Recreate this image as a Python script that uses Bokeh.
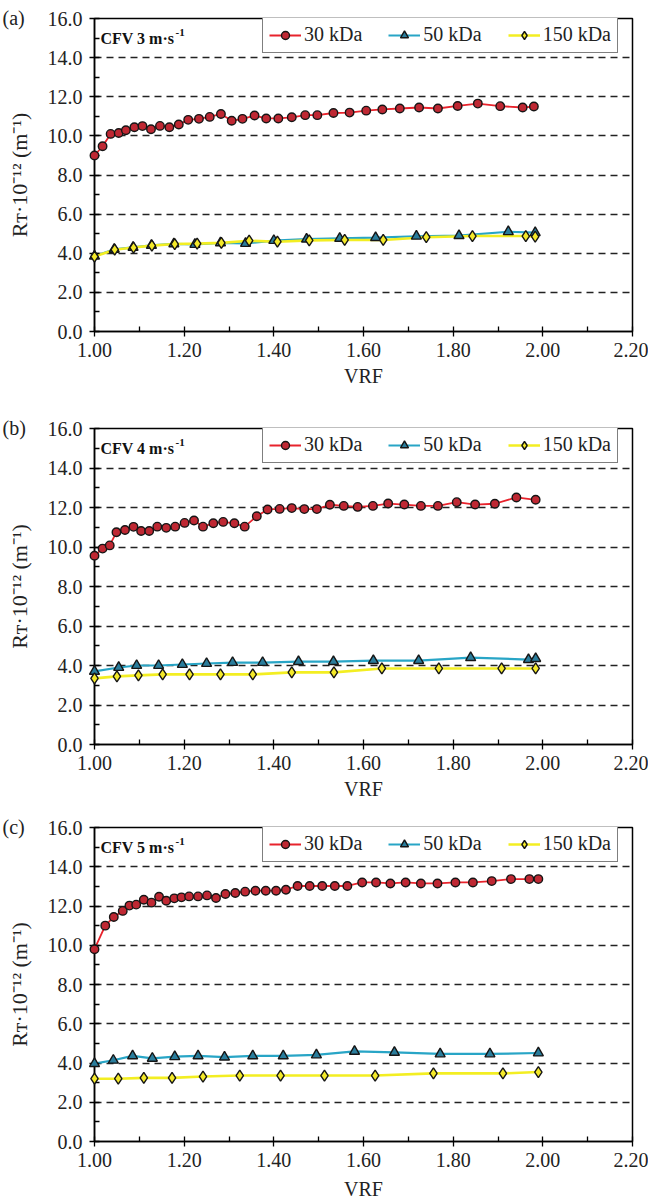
from bokeh.plotting import figure
from bokeh.layouts import column
from bokeh.models import (FixedTicker, NumeralTickFormatter, Label, Legend,
                          LegendItem, Range1d)
from bokeh.embed import file_html
from bokeh.resources import INLINE

# ---------------- data ----------------
panel_tags = ["(a)", "(b)", "(c)"]
cfv_speeds = ["3", "4", "5"]
series_names = ["30 kDa", "50 kDa", "150 kDa"]

x_ticks = [1.0, 1.2, 1.4, 1.6, 1.8, 2.0, 2.2]
x_minor = [1.1, 1.3, 1.5, 1.7, 1.9, 2.1]
y_ticks = [0, 2, 4, 6, 8, 10, 12, 14, 16]
y_minor = [1, 3, 5, 7, 9, 11, 13, 15]
y_grid = [2, 4, 6, 8, 10, 12, 14]

# (a) CFV 3 m/s
a30_x = [1.00, 1.018, 1.036, 1.054, 1.07, 1.089, 1.107, 1.126, 1.146, 1.167, 1.188,
         1.209, 1.233, 1.257, 1.282, 1.306, 1.33, 1.357, 1.383, 1.41, 1.44, 1.47,
         1.497, 1.533, 1.569, 1.606, 1.642, 1.681, 1.724, 1.766, 1.81, 1.855, 1.905,
         1.955, 1.98]
a30_y = [9.0, 9.47, 10.1, 10.15, 10.29, 10.44, 10.5, 10.34, 10.51, 10.44, 10.58,
         10.82, 10.87, 10.97, 11.12, 10.77, 10.87, 11.04, 10.89, 10.89, 10.95, 11.06,
         11.06, 11.17, 11.19, 11.29, 11.35, 11.4, 11.45, 11.4, 11.53, 11.65, 11.52,
         11.45, 11.5]
a50_x = [1.00, 1.044, 1.086, 1.127, 1.177, 1.224, 1.281, 1.337, 1.40, 1.473, 1.547,
         1.627, 1.718, 1.813, 1.923, 1.983]
a50_y = [3.85, 4.2, 4.3, 4.4, 4.48, 4.45, 4.53, 4.5, 4.65, 4.72, 4.76, 4.8, 4.87,
         4.9, 5.1, 5.05]
a150_x = [1.00, 1.045, 1.087, 1.128, 1.179, 1.229, 1.283, 1.345, 1.408, 1.479, 1.558,
          1.644, 1.74, 1.843, 1.962, 1.983]
a150_y = [3.83, 4.18, 4.29, 4.39, 4.47, 4.49, 4.53, 4.64, 4.59, 4.66, 4.68, 4.68,
          4.82, 4.88, 4.88, 4.85]

# (b) CFV 4 m/s
b30_x = [1.00, 1.018, 1.034, 1.049, 1.068, 1.087, 1.104, 1.122, 1.14, 1.16, 1.18,
         1.201, 1.222, 1.242, 1.265, 1.287, 1.312, 1.335, 1.362, 1.386, 1.413, 1.44,
         1.468, 1.496, 1.525, 1.556, 1.587, 1.621, 1.655, 1.691, 1.728, 1.766, 1.808,
         1.849, 1.893, 1.941, 1.984]
b30_y = [9.56, 9.92, 10.08, 10.75, 10.86, 11.02, 10.81, 10.81, 11.03, 10.97, 11.03,
         11.22, 11.34, 11.03, 11.2, 11.27, 11.2, 11.03, 11.56, 11.9, 11.93, 11.97,
         11.92, 11.92, 12.14, 12.08, 12.03, 12.08, 12.2, 12.15, 12.08, 12.08, 12.27,
         12.15, 12.19, 12.51, 12.39]
b50_x = [1.00, 1.054, 1.094, 1.143, 1.196, 1.25, 1.308, 1.375, 1.455, 1.533, 1.622,
         1.723, 1.839, 1.968, 1.984]
b50_y = [3.7, 3.9, 4.0, 4.0, 4.05, 4.1, 4.15, 4.15, 4.2, 4.2, 4.25, 4.25, 4.4, 4.3,
         4.35]
b150_x = [1.00, 1.05, 1.098, 1.152, 1.212, 1.281, 1.353, 1.44, 1.534, 1.641, 1.768,
          1.908, 1.984]
b150_y = [3.35, 3.45, 3.5, 3.55, 3.55, 3.55, 3.55, 3.65, 3.65, 3.85, 3.85, 3.85, 3.85]

# (c) CFV 5 m/s
c30_x = [1.00, 1.024, 1.043, 1.063, 1.078, 1.093, 1.11, 1.127, 1.144, 1.16, 1.178,
         1.194, 1.211, 1.231, 1.251, 1.271, 1.292, 1.314, 1.336, 1.359, 1.382, 1.405,
         1.427, 1.453, 1.48, 1.508, 1.536, 1.564, 1.597, 1.628, 1.66, 1.694, 1.728,
         1.765, 1.805, 1.844, 1.886, 1.929, 1.97, 1.99]
c30_y = [9.8, 11.0, 11.44, 11.75, 12.02, 12.07, 12.32, 12.17, 12.47, 12.27, 12.39,
         12.44, 12.49, 12.49, 12.54, 12.41, 12.61, 12.66, 12.73, 12.78, 12.78, 12.78,
         12.83, 13.02, 13.02, 13.02, 13.02, 13.02, 13.2, 13.2, 13.15, 13.2, 13.15,
         13.15, 13.2, 13.2, 13.27, 13.37, 13.37, 13.37]
c50_x = [1.00, 1.042, 1.085, 1.129, 1.179, 1.231, 1.29, 1.353, 1.421, 1.495, 1.58,
         1.669, 1.771, 1.882, 1.99]
c50_y = [3.97, 4.14, 4.36, 4.24, 4.32, 4.36, 4.3, 4.36, 4.36, 4.41, 4.59, 4.54, 4.46,
         4.46, 4.51]
c150_x = [1.00, 1.053, 1.11, 1.173, 1.242, 1.324, 1.415, 1.513, 1.626, 1.756, 1.911,
          1.99]
c150_y = [3.2, 3.2, 3.24, 3.24, 3.31, 3.36, 3.36, 3.36, 3.36, 3.47, 3.47, 3.54]

panels = [
    [(a30_x, a30_y), (a50_x, a50_y), (a150_x, a150_y)],
    [(b30_x, b30_y), (b50_x, b50_y), (b150_x, b150_y)],
    [(c30_x, c30_y), (c50_x, c50_y), (c150_x, c150_y)],
]

# ---------------- styling ----------------
SERIF = "Liberation Serif"
line_colors = ["#e8232c", "#28a5c6", "#f3ee22"]
fill_colors = ["#bf2833", "#2a7d9c", "#f4e92a"]
markers = ["circle", "triangle", "diamond"]
marker_sizes = [8.5, 10, 11]
line_widths = [1.8, 2.2, 2.6]

# (height, border_top, border_bottom, x-label standoff) for each panel
geometry = [(398, 18, 67, 5), (404, 30, 58, 5), (400, 25, 61, 8)]


def make_panel(i):
    height, btop, bbot, xstand = geometry[i]
    p = figure(width=648, height=height, output_backend="svg",
               toolbar_location=None,
               x_range=Range1d(x_ticks[0], x_ticks[-1]),
               y_range=Range1d(y_ticks[0], y_ticks[-1]),
               min_border_left=94, min_border_right=16,
               min_border_top=btop, min_border_bottom=bbot)
    p.background_fill_color = "white"
    p.border_fill_color = "white"
    p.outline_line_color = "black"
    p.outline_line_width = 1.5

    # panel tag drawn as the figure title, pulled down to the frame's top edge
    p.title.text = panel_tags[i]
    p.title.align = "left"
    p.title.offset = -92
    p.title.standoff = -21
    p.title.text_font = SERIF
    p.title.text_font_size = "20px"
    p.title.text_font_style = "normal"
    p.title.text_color = "#222222"

    # grid
    p.xgrid.visible = False
    p.ygrid.ticker = FixedTicker(ticks=y_grid)
    p.ygrid.grid_line_color = "#222222"
    p.ygrid.grid_line_dash = "7 5"
    p.ygrid.grid_line_width = 1.3

    # x axis
    xa = p.xaxis[0]
    xa.ticker = FixedTicker(ticks=x_ticks, minor_ticks=x_minor)
    xa.formatter = NumeralTickFormatter(format="0.00")
    xa.axis_label = "VRF"
    # y axis
    ya = p.yaxis[0]
    ya.ticker = FixedTicker(ticks=y_ticks, minor_ticks=y_minor)
    ya.formatter = NumeralTickFormatter(format="0.0")
    ya.axis_label = "R\u1d1b\u00b710\u207b\u00b9\u00b2 (m\u207b\u00b9)"
    for ax in (xa, ya):
        ax.axis_line_color = "black"
        ax.axis_line_width = 1.5
        ax.major_tick_line_color = "black"
        ax.major_tick_line_width = 1.3
        ax.minor_tick_line_color = "black"
        ax.minor_tick_line_width = 1.3
        ax.major_tick_in = 5
        ax.major_tick_out = 5
        ax.minor_tick_in = 5
        ax.minor_tick_out = 0
        ax.major_label_text_font = SERIF
        ax.major_label_text_font_size = "20px"
        ax.major_label_text_color = "#222222"
        ax.axis_label_text_font = SERIF
        ax.axis_label_text_font_size = "20px"
        ax.axis_label_text_font_style = "normal"
        ax.axis_label_text_color = "#222222"
    ya.axis_label_text_font_size = "22px"
    xa.major_label_standoff = 6
    xa.axis_label_standoff = xstand
    ya.major_label_standoff = 7
    ya.axis_label_standoff = 13

    items = []
    for k, (xs, ys) in enumerate(panels[i]):
        lr = p.line(xs, ys, line_color=line_colors[k], line_width=line_widths[k])
        sr = p.scatter(xs, ys, marker=markers[k], size=marker_sizes[k],
                       fill_color=fill_colors[k], line_color="#151515",
                       line_width=1.4, level="overlay")
        items.append(LegendItem(label=series_names[k], renderers=[lr, sr]))

    fh = height - btop - bbot
    legend = Legend(items=items, orientation="horizontal",
                    location=(168, fh - 3 - 32), margin=0,
                    padding=6, spacing=26, glyph_width=32, glyph_height=20,
                    label_standoff=3, label_text_font=SERIF,
                    label_text_font_size="20px", label_text_color="#222222",
                    border_line_color="black", border_line_width=1.5,
                    background_fill_color="white", background_fill_alpha=1.0)
    p.add_layout(legend)

    # CFV annotation with superscript
    p.add_layout(Label(x=6, y=y_minor[-1], x_units="screen", y_units="data",
                       text="CFV " + cfv_speeds[i] + " m\u00b7s",
                       text_baseline="middle", text_align="left",
                       text_font=SERIF, text_font_style="bold",
                       text_font_size="16px", text_color="#111111"))
    p.add_layout(Label(x=81, y=y_minor[-1] + 0.3, x_units="screen", y_units="data",
                       text="-1", text_baseline="middle", text_align="left",
                       text_font=SERIF, text_font_style="bold",
                       text_font_size="11px", text_color="#111111"))
    return p


layout = column(*[make_panel(i) for i in range(3)], spacing=0)
open("out.html", "w").write(file_html(layout, INLINE))
